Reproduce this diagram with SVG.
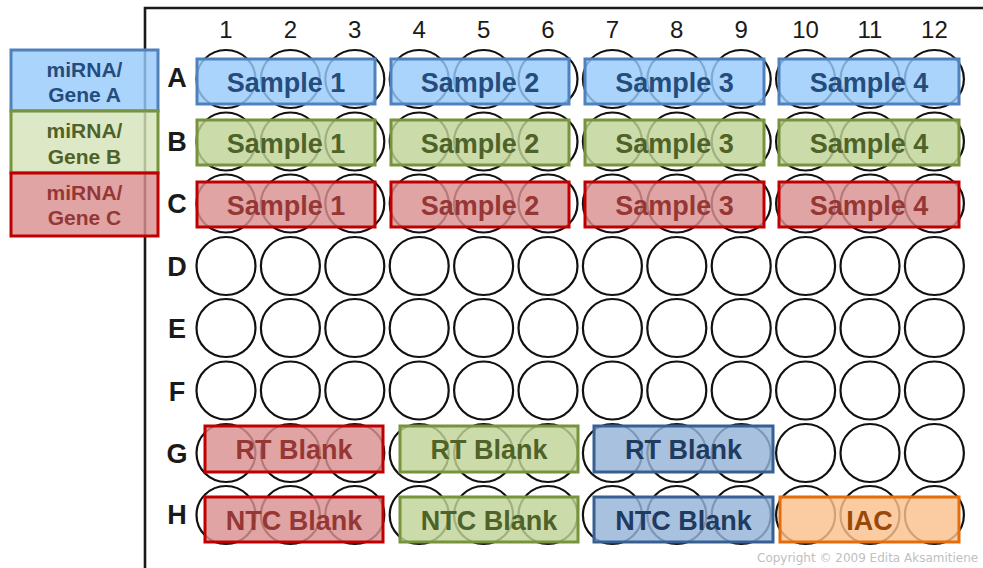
<svg xmlns="http://www.w3.org/2000/svg" xmlns:xlink="http://www.w3.org/1999/xlink" width="983" height="568" viewBox="0 0 983 568">
  <defs>
    <ellipse id="w" cx="0" cy="0" rx="29.5" ry="29" fill="#ffffff" stroke="#111111" stroke-width="2.2"/>
    <g id="row">
      <use xlink:href="#w" x="226"/>
      <use xlink:href="#w" x="290.4"/>
      <use xlink:href="#w" x="354.8"/>
      <use xlink:href="#w" x="419.2"/>
      <use xlink:href="#w" x="483.6"/>
      <use xlink:href="#w" x="548"/>
      <use xlink:href="#w" x="612.4"/>
      <use xlink:href="#w" x="676.8"/>
      <use xlink:href="#w" x="741.2"/>
      <use xlink:href="#w" x="805.6"/>
      <use xlink:href="#w" x="870"/>
      <use xlink:href="#w" x="934.4"/>
    </g>
  </defs>
  <style>
    .frame { fill: none; stroke: #1a1a1a; stroke-width: 2.6; }
    .col { font-family: "Liberation Sans", Arial, sans-serif; font-size: 24px; fill: #1a1a1a; text-anchor: middle; }
    .rowl { font-family: "Liberation Sans", Arial, sans-serif; font-size: 27px; font-weight: bold; fill: #1a1a1a; text-anchor: middle; }
    .box { stroke-width: 3; fill-opacity: 0.82; }
    .lbl { font-family: "Liberation Sans", Arial, sans-serif; font-size: 27px; font-weight: bold; text-anchor: middle; }
    .leg { font-family: "Liberation Sans", Arial, sans-serif; font-size: 21px; font-weight: bold; text-anchor: middle; }
    .blue rect { fill: #98cafc; stroke: #4f81bd; }
    .blue text { fill: #244c7c; }
    .green rect { fill: #bfd497; stroke: #77933c; }
    .green text { fill: #4f6228; }
    .red rect { fill: #da9090; stroke: #c00000; }
    .red text { fill: #953735; }
    .navy rect { fill: #95b3d8; stroke: #376092; }
    .navy text { fill: #1f3b5f; }
    .orange rect { fill: #fac08e; stroke: #e46c0a; }
    .orange text { fill: #984807; }
    .copy { font-family: "DejaVu Sans", Verdana, sans-serif; font-size: 12px; fill: #c0c0c0; }
  </style>

  <rect width="983" height="568" fill="#ffffff"/>

  <!-- plate outline -->
  <path class="frame" d="M145,568 V8 H983"/>

  <!-- column numbers -->
  <g id="columns">
    <text class="col" x="226" y="38">1</text>
    <text class="col" x="290.4" y="38">2</text>
    <text class="col" x="354.8" y="38">3</text>
    <text class="col" x="419.2" y="38">4</text>
    <text class="col" x="483.6" y="38">5</text>
    <text class="col" x="548" y="38">6</text>
    <text class="col" x="612.4" y="38">7</text>
    <text class="col" x="676.8" y="38">8</text>
    <text class="col" x="741.2" y="38">9</text>
    <text class="col" x="805.6" y="38">10</text>
    <text class="col" x="870" y="38">11</text>
    <text class="col" x="934.4" y="38">12</text>
  </g>

  <!-- row letters -->
  <g id="rows">
    <text class="rowl" x="177" y="87">A</text>
    <text class="rowl" x="177" y="151">B</text>
    <text class="rowl" x="177" y="213">C</text>
    <text class="rowl" x="177" y="276">D</text>
    <text class="rowl" x="177" y="338">E</text>
    <text class="rowl" x="177" y="401">F</text>
    <text class="rowl" x="177" y="463">G</text>
    <text class="rowl" x="177" y="524">H</text>
  </g>

  <!-- 8 x 12 wells -->
  <g id="wells">
    <use xlink:href="#row" y="79"/>
    <use xlink:href="#row" y="141.5"/>
    <use xlink:href="#row" y="203.5"/>
    <use xlink:href="#row" y="266"/>
    <use xlink:href="#row" y="328"/>
    <use xlink:href="#row" y="390.5"/>
    <use xlink:href="#row" y="453"/>
    <use xlink:href="#row" y="515"/>
  </g>

  <!-- row A: gene A -->
  <g id="a1" class="blue"><rect class="box" x="197" y="59" width="178" height="45"/><text class="lbl" x="286" y="91.5">Sample 1</text></g>
  <g id="a2" class="blue"><rect class="box" x="391" y="59" width="178" height="45"/><text class="lbl" x="480" y="91.5">Sample 2</text></g>
  <g id="a3" class="blue"><rect class="box" x="585" y="59" width="179" height="45"/><text class="lbl" x="674.5" y="91.5">Sample 3</text></g>
  <g id="a4" class="blue"><rect class="box" x="779" y="59" width="180" height="45"/><text class="lbl" x="869" y="91.5">Sample 4</text></g>

  <!-- row B: gene B -->
  <g id="b1" class="green"><rect class="box" x="197" y="120" width="178" height="45"/><text class="lbl" x="286" y="152.5">Sample 1</text></g>
  <g id="b2" class="green"><rect class="box" x="391" y="120" width="178" height="45"/><text class="lbl" x="480" y="152.5">Sample 2</text></g>
  <g id="b3" class="green"><rect class="box" x="585" y="120" width="179" height="45"/><text class="lbl" x="674.5" y="152.5">Sample 3</text></g>
  <g id="b4" class="green"><rect class="box" x="779" y="120" width="180" height="45"/><text class="lbl" x="869" y="152.5">Sample 4</text></g>

  <!-- row C: gene C -->
  <g id="c1" class="red"><rect class="box" x="197" y="182" width="178" height="45"/><text class="lbl" x="286" y="214.5">Sample 1</text></g>
  <g id="c2" class="red"><rect class="box" x="391" y="182" width="178" height="45"/><text class="lbl" x="480" y="214.5">Sample 2</text></g>
  <g id="c3" class="red"><rect class="box" x="585" y="182" width="179" height="45"/><text class="lbl" x="674.5" y="214.5">Sample 3</text></g>
  <g id="c4" class="red"><rect class="box" x="779" y="182" width="180" height="45"/><text class="lbl" x="869" y="214.5">Sample 4</text></g>

  <!-- row G: RT blanks -->
  <g id="g1" class="red"><rect class="box" x="205" y="426" width="178" height="46"/><text class="lbl" x="294" y="459">RT Blank</text></g>
  <g id="g2" class="green"><rect class="box" x="400" y="426" width="178" height="46"/><text class="lbl" x="489" y="459">RT Blank</text></g>
  <g id="g3" class="navy"><rect class="box" x="594" y="426" width="179" height="46"/><text class="lbl" x="683.5" y="459">RT Blank</text></g>

  <!-- row H: NTC blanks and IAC -->
  <g id="h1" class="red"><rect class="box" x="205" y="497" width="178" height="45"/><text class="lbl" x="294" y="529.5">NTC Blank</text></g>
  <g id="h2" class="green"><rect class="box" x="400" y="497" width="178" height="45"/><text class="lbl" x="489" y="529.5">NTC Blank</text></g>
  <g id="h3" class="navy"><rect class="box" x="594" y="497" width="179" height="45"/><text class="lbl" x="683.5" y="529.5">NTC Blank</text></g>
  <g id="h4" class="orange"><rect class="box" x="780" y="497" width="179" height="45"/><text class="lbl" x="869.5" y="529.5">IAC</text></g>

  <!-- legend -->
  <g id="legend-a" class="blue"><rect class="box" x="11" y="50" width="147" height="61"/><text class="leg" x="84.5" y="77">miRNA/</text><text class="leg" x="84.5" y="102">Gene A</text></g>
  <g id="legend-b" class="green"><rect class="box" x="11" y="111" width="147" height="62" style="fill:#d5e3ba"/><text class="leg" x="84.5" y="138">miRNA/</text><text class="leg" x="84.5" y="164">Gene B</text></g>
  <g id="legend-c" class="red"><rect class="box" x="11" y="173" width="147" height="63"/><text class="leg" x="84.5" y="200">miRNA/</text><text class="leg" x="84.5" y="225">Gene C</text></g>

  <text class="copy" x="757" y="562">Copyright © 2009 Edita Aksamitiene</text>
</svg>
